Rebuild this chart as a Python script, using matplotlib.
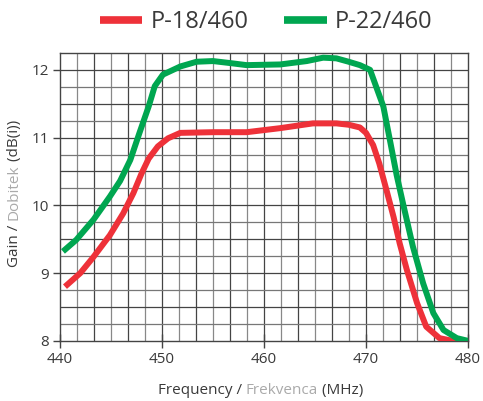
import matplotlib
matplotlib.use("Agg")
import matplotlib.pyplot as plt
import numpy as np

plt.rcParams['font.family'] = ['Open Sans', 'DejaVu Sans']

# frequency (MHz) / gain (dBi)
f_18 = [440.5, 442.0, 443.3, 444.9, 446.2, 447.2, 448.0, 448.7, 449.6, 450.6, 451.8,
        455.0, 458.3, 461.6, 464.8, 467.1, 468.3, 469.4, 470.0, 470.7, 471.3, 472.0,
        472.7, 473.3, 474.0, 475.0, 475.9, 477.2, 478.5, 480.0]
g_18 = [8.80, 9.00, 9.24, 9.56, 9.88, 10.18, 10.47, 10.69, 10.87, 10.99, 11.07,
        11.08, 11.08, 11.14, 11.21, 11.21, 11.19, 11.15, 11.07, 10.89, 10.62, 10.23,
        9.83, 9.44, 9.05, 8.56, 8.21, 8.04, 8.00, 7.99]

f_22 = [440.3, 441.6, 443.3, 444.9, 445.9, 446.9, 447.8, 448.7, 449.3, 450.1, 451.8,
        453.4, 455.0, 456.7, 458.3, 461.6, 464.2, 465.8, 467.1, 468.3, 469.4, 470.4,
        471.0, 471.7, 472.4, 473.0, 473.7, 474.6, 475.6, 476.6, 477.6, 478.9, 480.0]
g_22 = [9.32, 9.49, 9.79, 10.13, 10.36, 10.67, 11.07, 11.46, 11.76, 11.93, 12.05,
        12.12, 12.13, 12.10, 12.07, 12.08, 12.13, 12.18, 12.17, 12.12, 12.07, 12.00,
        11.75, 11.46, 10.92, 10.45, 9.98, 9.39, 8.85, 8.41, 8.16, 8.04, 8.00]

labels = ["P-18/460", "P-22/460"]
colors = ["#EE3139", "#00A650"]
dark = "#3a3a3a"
light = "#aaaaaa"

fig = plt.figure(figsize=(4.83, 4.01), dpi=100)
ax = fig.add_axes([0.124, 0.150, 0.845, 0.718])

ax.plot(f_18, g_18, color=colors[0], lw=4.3, label=labels[0], solid_capstyle='butt',
        solid_joinstyle='round', zorder=3)
ax.plot(f_22, g_22, color=colors[1], lw=4.3, label=labels[1], solid_capstyle='butt',
        solid_joinstyle='round', zorder=3)

ax.set_xlim(440, 480)
ax.set_ylim(8, 12.25)

# grid: every 1/6 of 10 MHz and every 0.25 dB
for i, xv in enumerate(np.linspace(440, 480, 25)[1:-1]):
    ax.axvline(xv, color="#444444" if i % 2 else "#888888", lw=0.9, zorder=1)
for i, yv in enumerate(np.arange(8.25, 12.25, 0.25)):
    ax.axhline(yv, color="#444444" if i % 2 else "#777777", lw=0.9, zorder=1)

for s in ax.spines.values():
    s.set_color("#444444")
    s.set_linewidth(1.0)

ax.set_xticks([440, 450, 460, 470, 480])
ax.set_yticks([8, 9, 10, 11, 12])
ax.tick_params(axis='x', direction='inout', length=10, width=1.0, color="#444444",
               labelsize=11, labelcolor=dark, pad=3)
ax.tick_params(axis='y', direction='out', length=5, width=1.0, color="#444444",
               labelsize=11, labelcolor=dark, pad=3)

fig.legend(loc='center', bbox_to_anchor=(0.551, 0.945), ncol=2, frameon=False,
           fontsize=17, handlelength=1.8, handletextpad=0.35, columnspacing=1.5,
           labelcolor=dark)
for line in fig.legends[0].get_lines():
    line.set_linewidth(5.5)

# multicolour axis labels
fig.canvas.draw()
r = fig.canvas.get_renderer()


def multi_text(parts, x, y, rotation=0):
    widths = []
    objs = []
    for txt, col in parts:
        t = fig.text(0, 0, txt, color=col, fontsize=11, rotation=rotation,
                     ha='left', va='center')
        bb = t.get_window_extent(r)
        widths.append(bb.width if rotation == 0 else bb.height)
        objs.append(t)
    total = sum(widths)
    W, H = fig.bbox.width, fig.bbox.height
    if rotation == 0:
        pos = x * W - total / 2
        for t, w in zip(objs, widths):
            t.set_position((pos / W, y))
            pos += w
    else:
        pos = y * H - total / 2
        for t, w in zip(objs, widths):
            t.set_va('bottom')
            t.set_ha('center')
            t.set_position((x, pos / H))
            pos += w


multi_text([("Frequency / ", dark), ("Frekvenca", light), (" (MHz)", dark)], 0.539, 0.027)
multi_text([("Gain / ", dark), ("Dobitek", light), (" (dB(i))", dark)], 0.03, 0.518, rotation=90)

fig.savefig("out.png", dpi=100)
